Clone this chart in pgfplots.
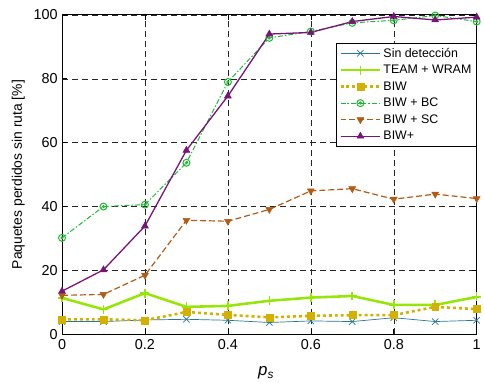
\documentclass[border=0pt]{standalone}
\usepackage{pgfplots}
\pgfplotsset{compat=1.18}
\usepackage{fontspec}
\setmainfont{Liberation Sans}
\definecolor{cSin}{RGB}{40,120,150}
\definecolor{cTeam}{RGB}{150,230,10}
\definecolor{cBiw}{RGB}{212,176,0}
\definecolor{cBc}{RGB}{30,185,50}
\definecolor{cSc}{RGB}{180,90,20}
\definecolor{cPlus}{RGB}{120,20,120}
\pgfdeclareplotmark{odot}{%
  \pgfpathcircle{\pgfpointorigin}{\pgfplotmarksize}\pgfusepathqstroke
  \pgfpathcircle{\pgfpointorigin}{0.3\pgfplotmarksize}\pgfusepathqfillstroke}
\begin{document}
\begin{tikzpicture}
\begin{axis}[
  scale only axis, width=418pt, height=322pt,
  xmin=0, xmax=1, ymin=0, ymax=100,
  xtick={0,0.2,0.4,0.6,0.8,1}, ytick={0,20,40,60,80,100},
  xticklabels={0,0.2,0.4,0.6,0.8,1},
  /pgf/number format/assume math mode=true,
  tick label style={font=\fontsize{14.5}{16}\selectfont},
  yticklabel style={xshift=-1pt},
  xticklabel style={yshift=-2pt},
  label style={font=\fontsize{14}{16}\selectfont},
  xlabel={\textit{p}\textsubscript{\textit{s}}},
  ylabel={Paquetes perdidos sin ruta [\%]},
  xlabel style={at={(axis description cs:0.492,0)}, anchor=north, yshift=-29pt, font=\fontsize{17}{19}\selectfont},
  ylabel style={at={(axis description cs:-0.0815,0.5)}, anchor=south},
  grid=major,
  major grid style={black!85, dash pattern=on 6pt off 4pt, line width=0.5pt},
  tick align=inside, major tick length=5pt,
  axis line style={line width=0.9pt},
  tick style={black, line width=0.6pt},
  legend style={at={(rel axis cs:1,0.913)}, anchor=north east,
    font=\fontsize{12.5}{14}\selectfont, draw=black, line width=0.8pt,
    row sep=2.5pt, inner xsep=3pt, inner ysep=3pt, cells={anchor=west}},
  legend image code/.code={\draw[mark repeat=2,mark phase=2,#1] plot coordinates {(0pt,0pt) (20pt,0pt) (40pt,0pt)};},
]
\addplot[cSin, line width=0.7pt, mark=x, mark size=4.5pt, mark options={solid, line width=0.7pt}]
coordinates {(0,4.0) (0.1,4.0) (0.2,4.5) (0.3,4.7) (0.4,4.4) (0.5,3.7) (0.6,4.2) (0.7,4.0) (0.8,5.2) (0.9,4.0) (1,4.4)};
\addlegendentry{Sin detección}
\addplot[cTeam, line width=2.6pt, mark=+, mark size=4.5pt, mark options={solid, line width=1.6pt}]
coordinates {(0,11.4) (0.1,7.8) (0.2,12.9) (0.3,8.6) (0.4,8.9) (0.5,10.5) (0.6,11.5) (0.7,12.0) (0.8,9.2) (0.9,9.2) (1,11.7)};
\addlegendentry{TEAM + WRAM}
\addplot[cBiw, line width=2.6pt, dash pattern=on 3pt off 3pt, mark=square*, mark size=3.5pt, mark options={solid, line width=0.5pt}]
coordinates {(0,4.7) (0.1,4.7) (0.2,4.4) (0.3,7.0) (0.4,6.1) (0.5,5.3) (0.6,5.8) (0.7,6.0) (0.8,6.0) (0.9,8.6) (1,7.9)};
\addlegendentry{BIW}
\addplot[cBc, line width=1pt, dash pattern=on 5pt off 2pt on 1.5pt off 2pt, mark=odot, mark size=3.5pt, mark options={solid, line width=1pt}]
coordinates {(0,30.2) (0.1,40.0) (0.2,40.6) (0.3,53.7) (0.4,79.0) (0.5,92.8) (0.6,94.8) (0.7,97.5) (0.8,98.3) (0.9,99.8) (1,97.9)};
\addlegendentry{BIW + BC}
\addplot[cSc, line width=1.2pt, dash pattern=on 6pt off 3pt, mark=triangle*, mark size=4pt, mark options={solid, rotate=180, line width=0.5pt}]
coordinates {(0,12.2) (0.1,12.5) (0.2,18.5) (0.3,35.7) (0.4,35.4) (0.5,39.1) (0.6,44.9) (0.7,45.6) (0.8,42.3) (0.9,43.9) (1,42.5)};
\addlegendentry{BIW + SC}
\addplot[cPlus, line width=1.3pt, mark=triangle*, mark size=4pt, mark options={solid, line width=0.5pt}]
coordinates {(0,13.5) (0.1,20.2) (0.2,33.9) (0.3,57.6) (0.4,74.6) (0.5,94.0) (0.6,94.5) (0.7,97.9) (0.8,99.5) (0.9,98.4) (1,99.3)};
\addlegendentry{BIW+}
\end{axis}
\path ([xshift=-62.5pt,yshift=15pt]current axis.north west) rectangle ([xshift=2.3pt,yshift=-48pt]current axis.south east);
\end{tikzpicture}
\end{document}
